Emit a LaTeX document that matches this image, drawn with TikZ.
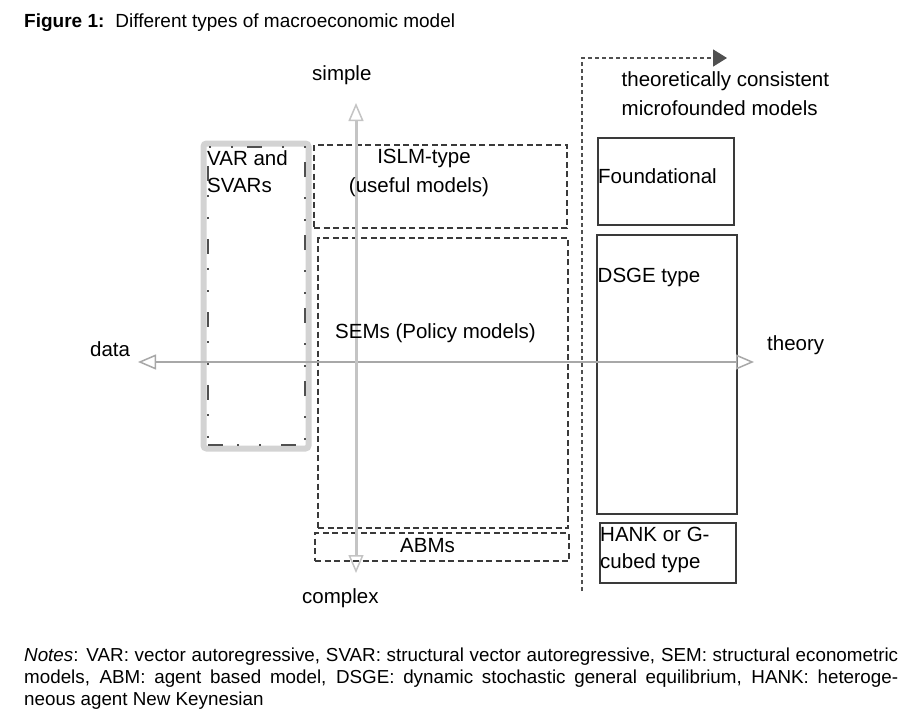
\documentclass[tikz,border=0pt]{standalone}
\usepackage{fontspec}
\setmainfont{Liberation Sans}
\usetikzlibrary{arrows.meta}
\definecolor{boxgray}{HTML}{3A3A3A}
\definecolor{axisgray}{HTML}{A8A8A8}
\definecolor{vaxisgray}{HTML}{C4C4C4}
\definecolor{bandgray}{HTML}{D3D3D3}
\definecolor{theogray}{HTML}{505050}
\newcommand\figfont{\fontsize{20.5}{24}\selectfont}
\newcommand\titlefont{\fontsize{19}{23}\selectfont}
\newcommand\notefont{\fontsize{18.8}{22}\selectfont}
\begin{document}
\begin{tikzpicture}[x=1pt,y=-1pt,
  dbox/.style={draw=boxgray, line width=2pt, dash pattern=on 6pt off 3.5pt, inner sep=0pt},
  sbox/.style={draw=boxgray, line width=2.2pt, inner sep=0pt},
  band/.style={draw=bandgray, line width=6pt, rounded corners=3pt, inner sep=0pt},
  dashdot/.style={draw=theogray, line width=2pt, dash pattern=on 15pt off 14pt on 2pt off 20pt on 2pt off 20pt, inner sep=0pt},
  lbl/.style={inner sep=0pt, font=\figfont},
  haxis/.style={draw=axisgray, line width=2pt,
    arrows={Triangle[open, length=18pt, width=15pt, line width=1.5pt]-Triangle[open, length=18pt, width=15pt, line width=1.5pt]}},
  vaxis/.style={draw=vaxisgray, line width=3pt,
    arrows={Triangle[open, length=18pt, width=15pt, line width=1.5pt]-Triangle[open, length=18pt, width=15pt, line width=1.5pt]}},
  theoline/.style={draw=theogray, line width=1.6pt, dash pattern=on 4pt off 3pt,
    -{Triangle[length=14pt, width=17pt, fill=theogray]}}
]
\useasboundingbox (0,0) rectangle (911,723);
\fill[white] (0,0) rectangle (911,723);

% title
\node[inner sep=0pt, anchor=base west, font=\titlefont] (title) at (24,27)
  {\textbf{Figure 1:}\hspace{11pt}Different types of macroeconomic model};

% VAR box
\node[band, minimum width=105pt, minimum height=305pt] (varband) at (256,296) {};
\node[dashdot, minimum width=97pt, minimum height=298pt] (varin) at (256.5,296) {};

% dashed boxes
\node[dbox, minimum width=253pt, minimum height=83pt] (islm) at (440.5,186.5) {};
\node[dbox, minimum width=250pt, minimum height=290pt] (sems) at (443,383) {};
\node[dbox, minimum width=254pt, minimum height=28pt] (abms) at (442,547) {};

% solid boxes
\node[sbox, minimum width=136pt, minimum height=87.5pt] (found) at (666,181.5) {};
\node[sbox, minimum width=139.5pt, minimum height=279pt] (dsge) at (667,374.5) {};
\node[sbox, minimum width=135.5pt, minimum height=59.5pt] (hank) at (668,553) {};

% theory line with arrow
\coordinate (tbot) at (582,591);
\coordinate (tcorner) at (582,58);
\coordinate (ttip) at (727,58);
\draw[theoline] (tbot) -- (tcorner) -- (ttip);

% axes
\coordinate (dataend) at (138,362);
\coordinate (theoryend) at (754,362);
\draw[haxis] (dataend) -- (theoryend);
\coordinate (simpleend) at (356,103);
\coordinate (complexend) at (356,573);
\draw[vaxis] (simpleend) -- (complexend);

% labels
\node[lbl, anchor=base west] (simple) at (312,80) {simple};
\node[lbl, anchor=base west] (complex) at (302,603.3) {complex};
\node[lbl, anchor=base west] (data) at (90,356.7) {data};
\node[lbl, anchor=base west] (theory) at (767,350) {theory};
\node[lbl, anchor=base west] (tc1) at (621.5,86.7) {theoretically consistent};
\node[lbl, anchor=base west] (tc2) at (621.5,115) {microfounded models};
\node[lbl, anchor=base west] (var1) at (207,165.5) {VAR and};
\node[lbl, anchor=base west] (var2) at (207,192.5) {SVARs};
\node[lbl, anchor=base] (islm1) at (424,163.3) {ISLM-type};
\node[lbl, anchor=base] (islm2) at (419,192) {(useful models)};
\node[lbl, anchor=base west] (semtxt) at (335,338.3) {SEMs (Policy models)};
\node[lbl, anchor=base west] (abmtxt) at (400,552.3) {ABMs};
\node[lbl, anchor=base west] (foundtxt) at (598,183) {Foundational};
\node[lbl, anchor=base west] (dsgetxt) at (597.5,282) {DSGE type};
\node[lbl, anchor=base west] (hank1) at (600,541.7) {HANK or G-};
\node[lbl, anchor=base west] (hank2) at (600,568) {cubed type};

% notes
\node[inner sep=0pt, anchor=north west, text width=874pt, align=justify, font=\notefont] (notes) at (24,647.5)
  {\noindent\textit{Notes}: VAR: vector autoregressive, SVAR: structural vector autoregressive, SEM: structural econometric\linebreak
   models, ABM: agent based model, DSGE: dynamic stochastic general equilibrium, HANK: heteroge-\linebreak
   neous agent New Keynesian};
\end{tikzpicture}
\end{document}
